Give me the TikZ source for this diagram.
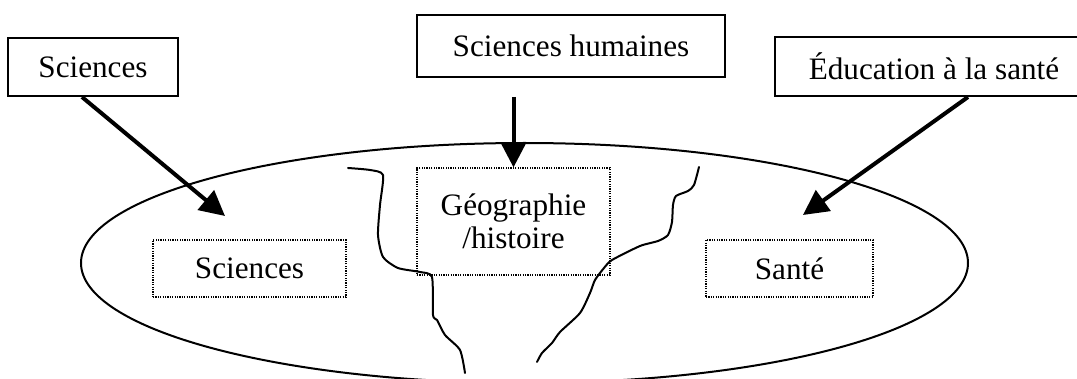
\documentclass[tikz,border=0pt]{standalone}
\usepackage{fontspec}
\setmainfont{Liberation Serif}
\usetikzlibrary{arrows.meta}

\begin{document}
\begin{tikzpicture}[x=0.5pt, y=-0.5pt, font=\fontsize{15.6}{16.5}\selectfont,
		topic/.style={rectangle, draw, line width=1pt, inner sep=0pt},
		part/.style={rectangle, draw, line width=0.6pt, dash pattern=on 0.6pt off 0.6pt, inner sep=0pt, align=center},
		link/.style={line width=2pt, -{Triangle[length=12.5pt, width=12.5pt]}},
		crack/.style={line width=1pt, line join=round, line cap=round}]
		\useasboundingbox (0,0) rectangle (1077,379);

		\node [topic, minimum width=85pt, minimum height=29pt] (sci) at (93,67) {Sciences};
		\node [topic, minimum width=154pt, minimum height=31pt] (hum) at (571,46) {Sciences humaines};
		\node [topic, minimum width=159pt, minimum height=29.5pt] (edu) at (934,66.5) {Éducation à la santé};

		% the field and its parts
		\draw[line width=1pt] (524.5,263) ellipse [x radius=221.75pt, y radius=60pt];
		\node [part, minimum width=96.5pt, minimum height=28.5pt] (scibox) at (249.5,268.5) {Sciences};
		\node [part, minimum width=96.5pt, minimum height=53.5pt] (geo) at (513.5,221.5) {Géographie\\/histoire};
		\node [part, minimum width=83.5pt, minimum height=28.5pt] (sante) at (789.5,268.5) {Santé};

		\draw[crack] plot[smooth, tension=0.4] coordinates {(348,168) (370,170) (383,175) (380,205) (378,235) (383,257) (398,268) (420,272) (432,277) (433,315) (437,320) (445,335) (460,350) (465,373)};
		\draw[crack] plot[smooth, tension=0.4] coordinates {(699,167) (694,185) (688,191) (676,196) (673,205) (672,222) (668,235) (658,241) (640,246) (612,260) (604,268) (595,280) (590,293) (580,313) (560,332) (552,343) (542,353) (537,362)};

		\coordinate (tipsci) at (225,216);
		\coordinate (tipsante) at (803,215);

		\draw[link] ([xshift=-5.5pt]sci.south) -- (tipsci);
		\draw[link] ([yshift=-9.5pt]hum.south -| geo.north) -- (geo.north);
		\draw[link] ([xshift=17pt]edu.south) -- (tipsante);
	\end{tikzpicture}
\end{document}
